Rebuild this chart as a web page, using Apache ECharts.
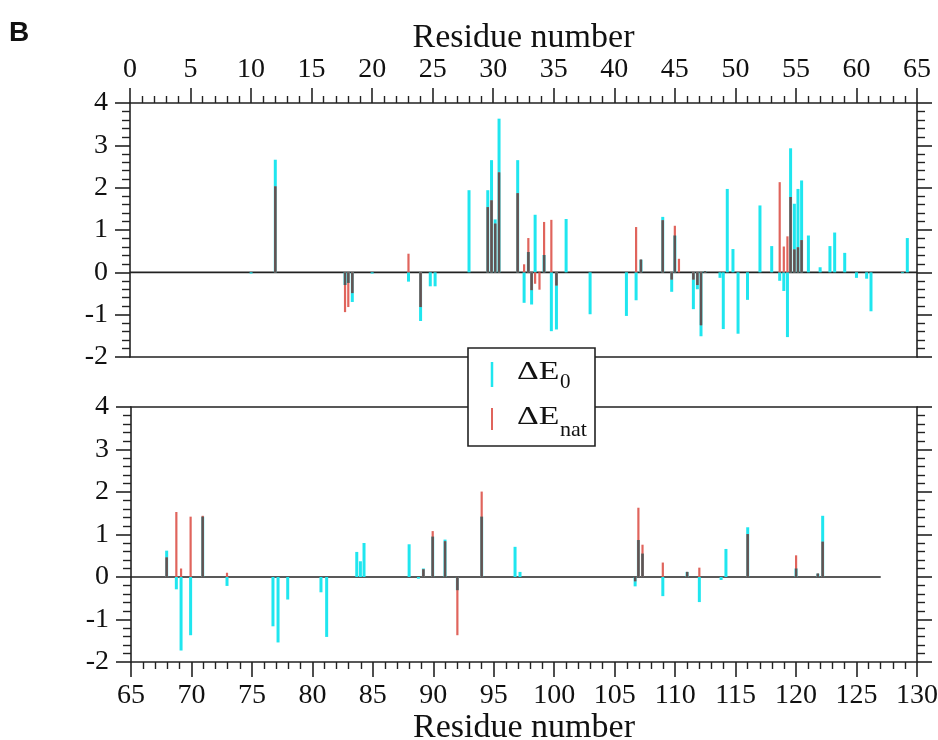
<!DOCTYPE html>
<html><head><meta charset="utf-8">
<script src="https://cdn.jsdelivr.net/npm/echarts@6/dist/echarts.min.js"></script>
<style>html,body{margin:0;padding:0;background:#fff}#c{width:938px;height:740px}</style>
</head><body><div id="c"></div>
<script>
// ---- data (residue position, ΔE0, ΔEnat); null = no bar ----
const topPos  = [10.0, 12.0, 17.76, 18.03, 18.36, 20.0, 23.0, 24.0, 24.8, 25.2, 28.0, 29.55, 29.86, 30.16, 30.48, 32.02, 32.55, 32.9, 33.17, 33.46, 33.82, 34.2, 34.8, 35.22, 36.02, 38.0, 41.0, 41.8, 42.2, 44.0, 44.74, 45.0, 45.34, 46.53, 46.86, 47.16, 47.49, 48.73, 49.0, 49.33, 49.8, 50.22, 51.0, 52.03, 53.0, 53.66, 54.0, 54.3, 54.56, 54.87, 55.17, 55.47, 56.03, 57.0, 57.81, 58.2, 59.03, 60.0, 60.84, 61.2, 63.8, 64.2];
const topE0   = [-0.03, 2.66, -0.30, -0.25, -0.70, -0.03, -0.22, -1.15, -0.33, -0.33, 1.94, 1.94, 2.65, 1.25, 3.63, 2.65, -0.72, 0.48, -0.76, 1.36, null, 0.41, -1.39, -1.35, 1.26, -0.99, -1.03, -0.66, 0.30, 1.31, -0.46, 0.87, null, -0.87, -0.40, -1.51, 0.03, -0.13, -1.34, 1.97, 0.55, -1.45, -0.65, 1.58, 0.62, -0.20, -0.44, -1.53, 2.93, 1.62, 1.97, 2.17, 0.87, 0.12, 0.62, 0.94, 0.46, -0.13, -0.15, -0.92, -0.02, 0.81];
const topEnat = [null, 2.03, -0.94, -0.82, -0.49, null, 0.44, -0.82, null, null, null, 1.54, 1.70, 1.15, 2.36, 1.87, 0.19, 0.81, -0.42, -0.27, -0.41, 1.19, 1.24, -0.31, null, null, null, 1.07, 0.30, 1.23, -0.17, 1.10, 0.32, -0.17, -0.30, -1.25, 0.03, null, null, null, null, null, null, null, null, 2.13, 0.61, 0.85, 1.78, 0.54, 0.59, 0.76, null, null, null, null, null, null, null, null, null, null];

const botPos  = [67.95, 68.75, 69.14, 69.93, 70.93, 72.94, 76.74, 77.16, 77.96, 80.71, 81.18, 83.67, 83.97, 84.27, 88.0, 88.77, 89.18, 89.95, 90.97, 91.99, 94.0, 96.76, 97.17, 106.69, 106.96, 107.3, 108.98, 110.99, 112.0, 113.8, 114.2, 116.0, 120.0, 121.8, 122.2];
const botE0   = [0.62, -0.29, -1.73, -1.37, 1.42, -0.21, -1.16, -1.54, -0.53, -0.36, -1.41, 0.59, 0.37, 0.80, 0.77, -0.04, 0.20, 0.95, 0.88, -0.31, 1.42, 0.71, 0.12, -0.22, 0.87, 0.55, -0.45, 0.12, -0.59, -0.07, 0.66, 1.17, 0.20, 0.08, 1.44];
const botEnat = [0.46, 1.53, 0.20, 1.42, 1.44, 0.10, null, null, null, null, null, null, null, null, null, null, 0.18, 1.08, 0.84, -1.37, 2.01, null, null, -0.10, 1.63, 0.76, 0.34, 0.12, 0.22, null, null, 1.01, 0.51, 0.08, 0.83];

const topRange = [0, 65];
const botRange = [65, 130];
const topZeroLine = [0, 65];
const botZeroLine = [65, 127];
const yRange = [-2, 4];
const xTitle = 'Residue number';
const legendNames = [['ΔE', '0'], ['ΔE', 'nat']];
const panelLabel = 'B';

const CYAN = '#1fe6ef', RED = '#e0645c', GRAY = '#5e5454';
const FONT = 'Liberation Serif';

function stemSeries(pos, e0, enat, xi, yi) {
  return {
    type: 'custom', xAxisIndex: xi, yAxisIndex: yi, z: 5,
    data: pos.map((p, i) => [p, e0[i] == null ? 0 : e0[i], enat[i] == null ? 0 : enat[i]]),
    encode: { x: 0, y: [1, 2] },
    renderItem: function (params, api) {
      const i = params.dataIndex;
      const x = pos[i], c = e0[i], r = enat[i];
      const base = api.coord([x, 0]);
      const kids = [];
      const seg = (v, color, w) => {
        const p = api.coord([x, v]);
        kids.push({ type: 'line', shape: { x1: base[0], y1: base[1], x2: p[0], y2: p[1] },
          style: { stroke: color, lineWidth: w } });
      };
      if (c != null) seg(c, CYAN, 3);
      if (r != null) seg(r, RED, 2.2);
      if (c != null && r != null && c * r > 0) {
        const o = Math.sign(c) * Math.min(Math.abs(c), Math.abs(r));
        seg(o, GRAY, 2.4);
      }
      return { type: 'group', children: kids };
    }
  };
}

function zeroSeries(rng, xi, yi) {
  return { type: 'line', xAxisIndex: xi, yAxisIndex: yi, symbol: 'none', z: 3, silent: true,
    data: [[rng[0], 0], [rng[1], 0]], lineStyle: { color: '#222', width: 1.6 } };
}

const axisLineStyle = { show: true, onZero: false, lineStyle: { color: '#222', width: 1.6 } };
const labelStyle = { fontFamily: FONT, fontSize: 28, color: '#111' };

function xAx(grid, rng, position, showTicks, gap) {
  return {
    type: 'value', gridIndex: grid, position: position, min: rng[0], max: rng[1], interval: 5,
    axisLine: axisLineStyle,
    axisTick: { show: showTicks, length: 15, lineStyle: { color: '#222', width: 1.6 } },
    minorTick: { show: showTicks, splitNumber: 5, length: 7, lineStyle: { color: '#222', width: 1.4 } },
    axisLabel: Object.assign({ show: showTicks, margin: position === 'top' ? 19 : 20 }, labelStyle),
    splitLine: { show: false },
    name: showTicks ? xTitle : '', nameLocation: 'middle', nameGap: gap || 0,
    nameTextStyle: { fontFamily: FONT, fontSize: 34, color: '#111' }
  };
}
function yAx(grid, position, showLabels) {
  return {
    type: 'value', gridIndex: grid, position: position, min: yRange[0], max: yRange[1], interval: 1,
    axisLine: axisLineStyle,
    axisTick: { show: true, length: 15, lineStyle: { color: '#222', width: 1.6 } },
    minorTick: { show: true, splitNumber: 5, length: 8, lineStyle: { color: '#222', width: 1.4 } },
    axisLabel: Object.assign({ show: showLabels, margin: 22 }, labelStyle),
    splitLine: { show: false }
  };
}

const chart = echarts.init(document.getElementById('c'), null, { renderer: 'canvas' });
chart.setOption({
  animation: false,
  backgroundColor: '#fff',
  grid: [
    { left: 130, right: 21, top: 103, height: 254, containLabel: false, outerBoundsMode: 'none' },
    { left: 131, right: 21, top: 407, height: 255, containLabel: false, outerBoundsMode: 'none' }
  ],
  xAxis: [
    xAx(0, topRange, 'top', true, 37),
    xAx(0, topRange, 'bottom', false),
    xAx(1, botRange, 'bottom', true, 49),
    xAx(1, botRange, 'top', false)
  ],
  yAxis: [yAx(0, 'left', true), yAx(0, 'right', false), yAx(1, 'left', true), yAx(1, 'right', false)],
  series: [
    zeroSeries(topZeroLine, 0, 0),
    zeroSeries(botZeroLine, 2, 2),
    stemSeries(topPos, topE0, topEnat, 0, 0),
    stemSeries(botPos, botE0, botEnat, 2, 2)
  ],
  graphic: [
    { type: 'text', left: 9, top: 19, z: 100,
      style: { text: panelLabel, font: 'bold 28px "Liberation Sans"', fill: '#111' } },
    { type: 'rect', z: 100, shape: { x: 468, y: 348, width: 127, height: 98 },
      style: { fill: '#fff', stroke: '#222', lineWidth: 1.6 } },
    { type: 'line', z: 101, shape: { x1: 492, y1: 362, x2: 492, y2: 387 }, style: { stroke: CYAN, lineWidth: 2.5 } },
    { type: 'line', z: 101, shape: { x1: 492, y1: 408, x2: 492, y2: 430 }, style: { stroke: RED, lineWidth: 2 } },
    { type: 'text', z: 101, x: 517, y: 359, scaleX: 1.3,
      style: { text: legendNames[0][0], font: '26px "Liberation Serif"', fill: '#111' } },
    { type: 'text', z: 101, x: 560, y: 372,
      style: { text: legendNames[0][1], font: '21px "Liberation Serif"', fill: '#111' } },
    { type: 'text', z: 101, x: 517, y: 404, scaleX: 1.3,
      style: { text: legendNames[1][0], font: '26px "Liberation Serif"', fill: '#111' } },
    { type: 'text', z: 101, x: 560, y: 420, scaleX: 1.05,
      style: { text: legendNames[1][1], font: '21px "Liberation Serif"', fill: '#111' } }
  ]
});
</script></body></html>
